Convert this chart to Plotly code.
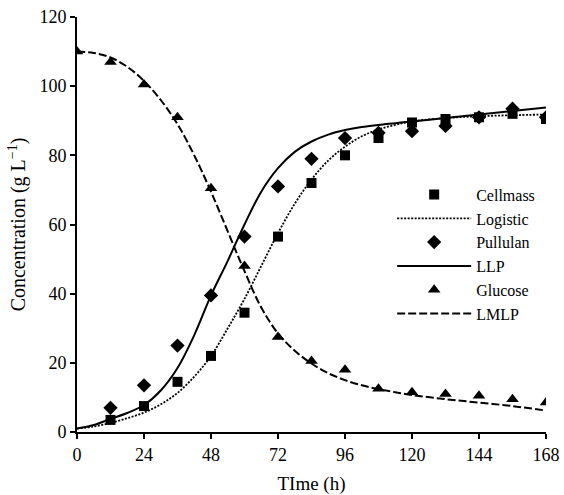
import plotly.graph_objects as go

# Observed data
t_obs = [0, 12, 24, 36, 48, 60, 72, 84, 96, 108, 120, 132, 144, 156, 168]
cellmass = [None, 3.5, 7.5, 14.5, 22, 34.5, 56.5, 72, 80, 85, 89.5, 90.5, 91, 92, 90.5]
pullulan = [None, 7, 13.5, 25, 39.5, 56.5, 71, 79, 85, 86.5, 87, 88.5, 91, 93.5, 91]
glucose = [110, 107, 100.5, 91, 70.5, 48, 27.5, 20.5, 18, 12.5, 11.5, 11, 10.5, 9.5, 8.5]

# Model curves
t_fit = [0, 6, 12, 18, 24, 30, 36, 42, 48, 54, 60, 66, 72, 78, 84, 90, 96, 102, 108, 114, 120, 132, 144, 156, 168]
logistic = [1, 1.6, 2.6, 4, 5.6, 8, 11.3, 16, 22, 30, 38.5, 48, 57.5, 66, 73, 78.5, 82.5, 85.5, 87.5, 88.8, 89.8, 90.8, 91.3, 91.6, 91.8]
llp = [1, 2, 3.8, 5.5, 7.8, 12, 18.5, 28, 39.5, 49.5, 60, 69.5, 76.3, 81, 84, 86, 87.3, 88.2, 88.8, 89.3, 89.8, 90.8, 91.8, 92.8, 93.8]
lmlp = [110, 109.6, 108.3, 105.6, 101.5, 96, 89, 80, 69.5, 58, 46.5, 36, 28.5, 23.5, 19.8, 17, 15, 13.5, 12.4, 11.5, 10.7, 9.5, 8.5, 7.5, 6.2]

FONT = "Liberation Serif"
fig = go.Figure()

fig.add_trace(go.Scatter(x=t_obs, y=cellmass, mode="markers", name="Cellmass",
                         marker=dict(symbol="square", size=10, color="black")))
fig.add_trace(go.Scatter(x=t_fit, y=logistic, mode="lines", name="Logistic", line_shape="spline",
                         line=dict(color="black", width=1.8, dash="2px,1.5px")))
fig.add_trace(go.Scatter(x=t_obs, y=pullulan, mode="markers", name="Pullulan",
                         marker=dict(symbol="diamond", size=11, color="black")))
fig.add_trace(go.Scatter(x=t_fit, y=llp, mode="lines", name="LLP", line_shape="spline",
                         line=dict(color="black", width=2)))
fig.add_trace(go.Scatter(x=t_obs, y=glucose, mode="markers", name="Glucose",
                         marker=dict(symbol="triangle-up", size=11, color="black")))
fig.add_trace(go.Scatter(x=t_fit, y=lmlp, mode="lines", name="LMLP", line_shape="spline",
                         line=dict(color="black", width=2, dash="8px,3px")))

fig.update_layout(
    width=564, height=495,
    margin=dict(l=77, r=18, t=17, b=63),
    paper_bgcolor="white", plot_bgcolor="white",
    font=dict(family=FONT, size=18, color="black"),
    showlegend=True,
    legend=dict(x=0.672, y=0.613, xanchor="left", yanchor="top",
                bgcolor="rgba(0,0,0,0)", font=dict(family=FONT, size=16),
                tracegroupgap=0, itemwidth=74),
    xaxis=dict(range=[0, 168], tickvals=[0, 24, 48, 72, 96, 120, 144, 168], automargin=False,
               showline=True, linecolor="black", linewidth=2, ticks="outside",
               ticklen=5, tickwidth=2, tickcolor="black", showgrid=False, zeroline=False,
               tickfont=dict(family=FONT, size=18),
               title=dict(text="TIme (h)", font=dict(family=FONT, size=19), standoff=18)),
    yaxis=dict(range=[0, 120], tickvals=[0, 20, 40, 60, 80, 100, 120], automargin=False,
               showline=True, linecolor="black", linewidth=2, ticks="outside",
               ticklen=5, tickwidth=2, tickcolor="black", showgrid=False, zeroline=False,
               tickfont=dict(family=FONT, size=18),
               title=dict(text="Concentration (g L<sup>\u22121</sup>)", font=dict(family=FONT, size=20), standoff=8)),
)

fig.write_html("out.html", config={"displayModeBar": False},
               post_script="document.body.style.margin='0';")
